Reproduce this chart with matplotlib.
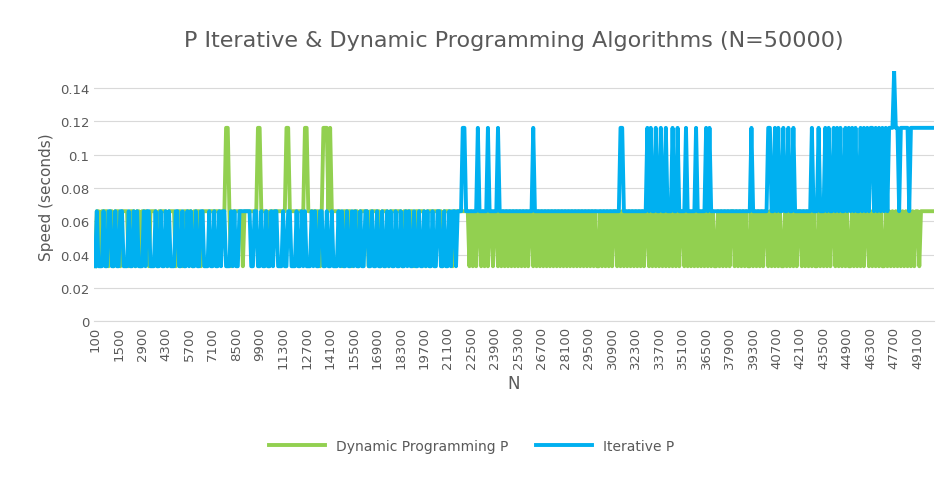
import matplotlib
matplotlib.use("Agg")
import matplotlib.pyplot as plt

levels = {"L": 0.033, "M": 0.066, "H": 0.116, "T": 0.15}
n_values = list(range(100, 50001, 100))
iterative_code = "".join("""
LMLLLMLLMM LLMLLMMLLL MLLMLMLLLM LMMLLLMLLM LLMLMLLLMM
LLMLLMLMLL MLLMMLLLML LMLLMLMMLL LMLMLLMMMM MMMLLMMLLM
LLMLLMLMML LLMLLMMLLL MLLMLMLLLM LMLLMMLLML LMLLLMLMLL
MLLMLMLLML LMMLLMLLML LMLLMLMLLM LLMLLMLMLL MLLMLLMLML
LMLLMMLLML LMLMMLMMMH HMMMMMMMHM MMMMHMMMMM HMMMMMMMMM
MMMMMMMMMM MHMMMMMMMM MMMMMMMMMM MMMMMMMMMM MMMMMMMMMM
MMMMMMMMMM MMMHHMMMMM MMMMMMMMMH MHMMHMMHMM HMMMHMMHMM
MMHMMMMMHM MMMMHMHMMM MMMMMMMMMM MMMMMMMMMM MHMMMMMMMM
MHHMMHMHMM HMMHMMHMMM MMMMMMMHMM MHMMMHMHMM HMHMHMMHMH
MHMHMMHMHM HMHHMHMHMH MHMHHHTHHM HHHHHMHHHH HHHHHHHHHH
""".split())
dynamic_code = "".join("""
LMMLMMMMLM MLMMMLMMMM LMMMLMMLMM MMLMMMMLMM MMMLMMMMLM
MMLMMMMMLM MMMLMMMMMM MMMMMMMMHH MLMMMMMMLM MMMMMMMHHM
MMMLMMMMMM MMMMHHMMMM MMMMMHHMMM MMMMLMHHHM HMMMMMMLMM
MMMLMMMLMM MMMLMMMMMM LMMMMLMMMM MMMLMMMMMM LMMMMMMLMM
MMMMMMMLMM MMMLMMMMMM MMMLMLMLMM LMLMLMMLMM LMLMLMLMLM
LMLMLMLMLM MLMLMLMLML MLMLMLMLML MLMLMLMLML MLMLMLMLML
LMLMLMLMLM MLMLMLMLML MLMLMLMLMM LMLMLMLMLM LMLMLMLMLM
MLMLMLMLML MLMLMLMLML LMLMLMLMLM MLMLMLMLML LMLMLMLMLM
MLMLMLMLML LMLMLMLMLM MLMLMLMLML LMLMLMLMLM MLMLMLMLML
LMLMLMLMLM MLMLMLMLML LMLMLMLMLM LMLMLMLMLM MLMMMMMMMM
""".split())
iterative = [levels[c] for c in iterative_code]
dynamic = [levels[c] for c in dynamic_code]

fig, ax = plt.subplots(figsize=(9.43, 4.81), dpi=100)
fig.subplots_adjust(left=0.1, right=0.99, top=0.85, bottom=0.33)
x = list(range(len(n_values)))
ax.plot(x, dynamic, color="#92D050", lw=2.8, label="Dynamic Programming P", zorder=2)
ax.plot(x, iterative, color="#00B0F0", lw=2.8, label="Iterative P", zorder=3)
ax.set_ylim(0, 0.15)
ax.set_yticks([0, 0.02, 0.04, 0.06, 0.08, 0.1, 0.12, 0.14])
ax.set_yticklabels(["0", "0.02", "0.04", "0.06", "0.08", "0.1", "0.12", "0.14"])
ax.set_xlim(-0.5, len(n_values) - 0.5)
ticks = x[::14]
ax.set_xticks(ticks)
ax.set_xticklabels([str(n_values[i]) for i in ticks], rotation=90)
ax.grid(axis="y", color="#D9D9D9", lw=0.8, zorder=0)
for s in ["top", "right", "left"]:
    ax.spines[s].set_visible(False)
ax.spines["bottom"].set_color("#D9D9D9")
ax.tick_params(axis="both", colors="#595959", labelsize=9.5, length=0)
ax.set_xlabel("N", color="#595959", fontsize=12)
ax.set_ylabel("Speed (seconds)", color="#595959", fontsize=11)
ax.set_title("P Iterative & Dynamic Programming Algorithms (N=50000)", color="#595959", fontsize=16, pad=18)
fig.legend(loc="lower center", ncol=2, frameon=False, fontsize=10, labelcolor="#595959",
           bbox_to_anchor=(0.5, 0.03), handlelength=4, columnspacing=2)
fig.savefig("out.png")
